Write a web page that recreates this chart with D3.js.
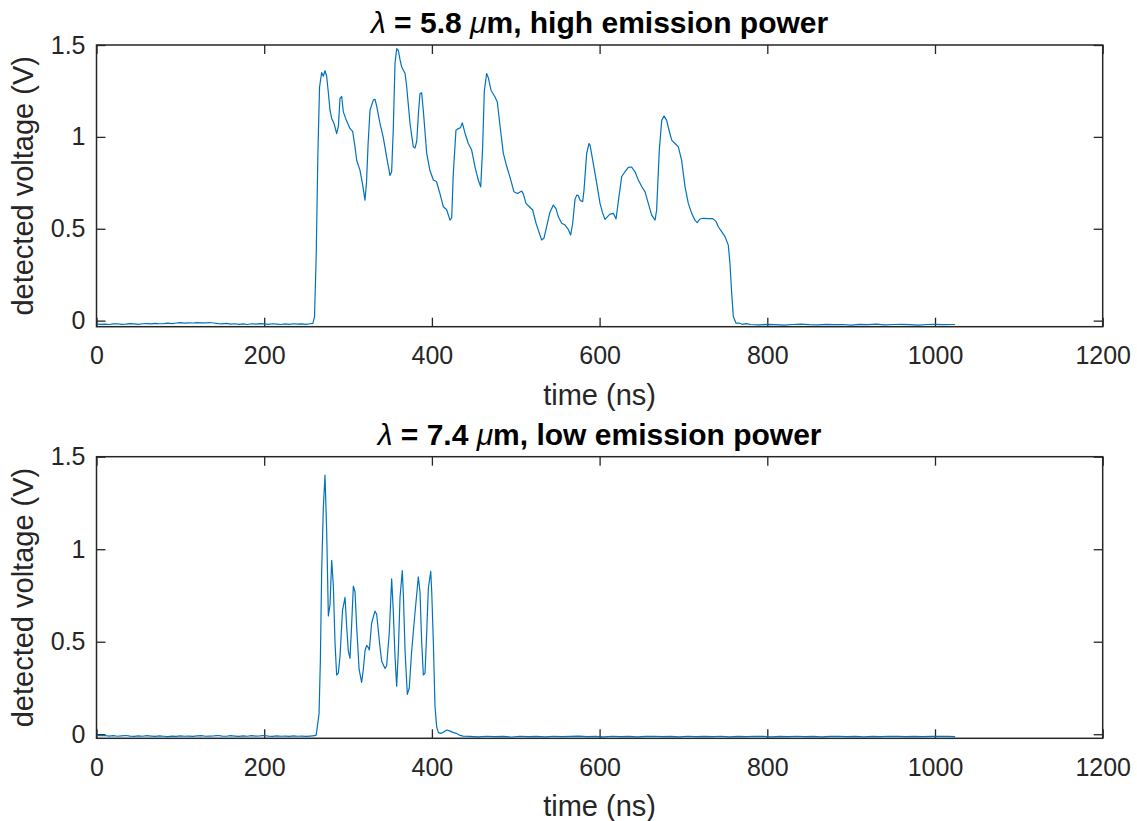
<!DOCTYPE html>
<html>
<head>
<meta charset="utf-8">
<script src="https://cdn.jsdelivr.net/npm/d3@7"></script>
<style>
  body { margin: 0; background: #fff; }
  svg { display: block; font-family: "Liberation Sans", Arial, sans-serif; }
  .tick text { fill: #262626; font-size: 25px; }
  .tick line { stroke: #262626; stroke-width: 1.3; }
  .frame { fill: none; stroke: #262626; stroke-width: 1.5; }
  .trace { fill: none; stroke: #0072BD; stroke-width: 1.2; stroke-linejoin: round; }
  .label { fill: #262626; font-size: 29px; }
  .title { fill: #000; font-size: 30px; font-weight: bold; }
</style>
</head>
<body>
<div id="chart"></div>
<script>
// time in ns, voltage in V
var top_time = [0,5,10,15,20,25,30,35,40,45,50,55,60,65,70,75,80,85,90,95,100,105,110,115,120,125,130,135,140,145,150,155,160,165,170,175,180,185,190,195,200,205,210,215,220,225,230,235,240,245,250,255,258,
  260,262,264,266,268.5,270.5,272.5,274.5,276.5,278.5,280.5,283.5,286.4,288.5,290.4,292.4,294.4,298,302.3,305.5,308.3,310.3,314.2,317,320.2,322,324,326.2,330.1,332.1,334,338.1,342,346,350,352,354,356,358,360,362,364,368,370,373.9,377.8,380,382,384,385.8,387.8,390,393.8,397.5,401.7,405.5,409.7,413.6,417.5,421.6,423.6,425.5,428.7,431.5,434,436.3,439.5,443.4,447.3,451.4,455.3,458.2,460.5,462.5,465.3,467.4,470.5,475,478,481,485.2,489.2,493.2,497.9,502,507.1,509,512.2,516.2,520.2,524.2,528.2,530.9,533.6,536.8,540.8,544.8,548,550.8,554.8,558.8,562.8,565.5,567.9,570.7,572.7,574.7,576.7,579.8,581.4,584.6,587.4,588.6,592.5,596.5,600.5,603.3,606.4,609.2,612.4,616.4,619.6,622.4,626.3,630.2,634.2,638.2,642.2,646.2,650.2,654.2,658.1,662.1,666.1,668,671.2,674.1,676.8,680,682.8,686,690,693.9,697.8,701.9,705.8,709.8,713.7,716.5,719.6,723.7,729.7,734.9,738.9,741.6,745.6,749.6,753.5,755.5,757.5,759.5,762.7,766,770,775,
  780,790,800,810,820,830,840,850,860,870,880,890,900,910,920,930,940,950,960,970,980,990,1000,1010,1020,1024];
var top_voltage = [-0.018,-0.02,-0.019,-0.021,-0.018,-0.017,-0.02,-0.019,-0.016,-0.018,-0.02,-0.017,-0.016,-0.018,-0.015,-0.017,-0.016,-0.014,-0.016,-0.013,-0.011,-0.014,-0.012,-0.013,-0.011,-0.012,-0.012,-0.01,-0.013,-0.016,-0.018,-0.015,-0.019,-0.017,-0.02,-0.018,-0.021,-0.017,-0.019,-0.016,-0.018,-0.02,-0.017,-0.019,-0.021,-0.018,-0.02,-0.017,-0.019,-0.018,-0.02,-0.017,-0.015,
  0.02,0.35,0.9,1.27,1.35,1.33,1.36,1.33,1.24,1.145,1.10,1.07,1.018,1.06,1.21,1.22,1.136,1.09,1.046,1.03,0.946,0.873,0.819,0.75,0.656,0.75,0.97,1.145,1.2,1.205,1.17,1.073,0.997,0.891,0.79,0.81,1.05,1.4,1.48,1.47,1.42,1.38,1.345,1.27,1.073,0.946,0.94,0.98,1.13,1.236,1.24,1.13,0.91,0.82,0.765,0.757,0.69,0.62,0.605,0.547,0.56,0.8,1.036,1.045,1.05,1.076,1.02,0.964,0.93,0.837,0.765,0.728,0.94,1.25,1.345,1.32,1.254,1.22,1.19,1.07,0.91,0.84,0.78,0.701,0.692,0.705,0.69,0.638,0.62,0.602,0.53,0.475,0.439,0.448,0.51,0.59,0.629,0.61,0.565,0.53,0.52,0.495,0.466,0.53,0.66,0.683,0.68,0.655,0.647,0.71,0.91,0.964,0.955,0.855,0.75,0.638,0.59,0.551,0.565,0.58,0.584,0.553,0.65,0.783,0.81,0.834,0.836,0.81,0.765,0.73,0.701,0.638,0.574,0.547,0.6,0.928,1.09,1.114,1.09,1.036,0.982,0.964,0.946,0.873,0.728,0.638,0.584,0.547,0.533,0.553,0.557,0.555,0.555,0.54,0.511,0.484,0.457,0.411,0.31,0.15,0.022,-0.014,-0.013,-0.02,-0.016,
  -0.021,-0.023,-0.02,-0.022,-0.024,-0.021,-0.019,-0.022,-0.023,-0.02,-0.022,-0.021,-0.024,-0.02,-0.022,-0.019,-0.023,-0.021,-0.02,-0.022,-0.024,-0.021,-0.02,-0.022,-0.021,-0.021];

var bottom_time = [0,5,10,15,20,25,30,35,40,45,50,55,60,65,70,75,80,85,90,95,100,105,110,115,120,125,130,135,140,145,150,155,160,165,170,175,180,185,190,195,200,205,210,215,220,225,230,235,240,245,250,255,260,
  262,265.4,267,268.5,270.5,272.5,274.5,276.5,278.5,280.5,282.5,284.4,286.4,288.4,290.4,293.4,296.4,298.4,300.3,302.3,304.3,306.3,308.3,310.3,313.2,316.2,318.2,320.2,322.2,324,325.4,328.1,332.1,334.1,338.1,340.1,344.1,346,349.2,352,354,356,358,360,362,364.7,366,368,370.7,373,375.7,379.7,383.8,385.8,387.8,389.8,391.8,393.8,395.8,398.6,399.8,401.7,403.7,405.7,407.7,409.7,412,415,418,421,425,429,433,437,
  445,455,465,475,485,495,505,515,525,535,545,555,565,575,585,595,605,615,625,635,645,655,665,675,685,695,705,715,725,735,745,755,765,775,785,795,805,815,825,835,845,855,865,875,885,895,905,915,925,935,945,955,965,975,985,995,1005,1015,1024];
var bottom_voltage = [-0.006,-0.008,-0.007,-0.01,-0.008,-0.011,-0.009,-0.007,-0.01,-0.012,-0.009,-0.011,-0.008,-0.01,-0.012,-0.009,-0.011,-0.013,-0.01,-0.012,-0.009,-0.011,-0.01,-0.012,-0.009,-0.008,-0.011,-0.01,-0.009,-0.007,-0.01,-0.011,-0.008,-0.01,-0.012,-0.009,-0.011,-0.008,-0.01,-0.009,-0.007,-0.01,-0.012,-0.009,-0.011,-0.01,-0.012,-0.009,-0.011,-0.01,-0.012,-0.01,-0.008,
  -0.005,0.11,0.4,0.87,1.22,1.40,1.1,0.64,0.7,0.94,0.8,0.5,0.32,0.33,0.42,0.67,0.74,0.58,0.45,0.41,0.59,0.80,0.77,0.58,0.35,0.28,0.35,0.45,0.48,0.47,0.455,0.6,0.665,0.65,0.47,0.395,0.355,0.37,0.55,0.84,0.66,0.42,0.26,0.45,0.74,0.885,0.75,0.45,0.215,0.25,0.44,0.65,0.85,0.77,0.5,0.32,0.33,0.55,0.79,0.88,0.77,0.5,0.15,0.04,0.01,0.005,0.007,0.015,0.023,0.018,0.01,0.005,-0.005,-0.01,
  -0.012,-0.014,-0.011,-0.013,-0.012,-0.015,-0.011,-0.013,-0.012,-0.014,-0.011,-0.013,-0.012,-0.01,-0.013,-0.012,-0.014,-0.011,-0.013,-0.012,-0.014,-0.012,-0.011,-0.013,-0.012,-0.014,-0.011,-0.013,-0.012,-0.013,-0.011,-0.014,-0.012,-0.013,-0.011,-0.012,-0.014,-0.012,-0.013,-0.011,-0.013,-0.012,-0.014,-0.012,-0.011,-0.013,-0.012,-0.014,-0.012,-0.013,-0.011,-0.012,-0.013,-0.012,-0.013,-0.012,-0.011,-0.012,-0.013];

var x_ticks = [0, 200, 400, 600, 800, 1000, 1200];
var y_ticks = [0, 0.5, 1, 1.5];
var y_tick_labels = ['0', '0.5', '1', '1.5'];

var width = 1137, height = 821;
var plot_left = 96.5, plot_right = 1102.7;

var svg = d3.select('#chart').append('svg')
    .attr('width', width)
    .attr('height', height);

var scale_x = d3.scaleLinear()
    .domain([0, 1200])
    .range([plot_left, plot_right]);

var draw_panel = function(times, volts, y_top, y_bottom, y_min, title_parts) {
    var scale_y = d3.scaleLinear()
        .domain([y_min, 1.5])
        .range([y_bottom, y_top]);

    var g = svg.append('g');

    // ticks pointing in, on all four sides like matlab
    g.append('g')
        .attr('transform', 'translate(0,' + y_bottom + ')')
        .call(d3.axisBottom(scale_x).tickValues(x_ticks).tickSize(-9).tickPadding(20)
            .tickFormat(d3.format('d')))
        .call(function(a) { a.select('.domain').remove(); });
    g.append('g')
        .attr('transform', 'translate(0,' + y_top + ')')
        .call(d3.axisTop(scale_x).tickValues(x_ticks).tickSize(-9).tickFormat(''))
        .call(function(a) { a.select('.domain').remove(); });
    g.append('g')
        .attr('transform', 'translate(' + plot_left + ',0)')
        .call(d3.axisLeft(scale_y).tickValues(y_ticks).tickSize(-9).tickPadding(11)
            .tickFormat(function(d, i) { return y_tick_labels[i]; }))
        .call(function(a) { a.select('.domain').remove(); });
    g.append('g')
        .attr('transform', 'translate(' + plot_right + ',0)')
        .call(d3.axisRight(scale_y).tickValues(y_ticks).tickSize(-9).tickFormat(''))
        .call(function(a) { a.select('.domain').remove(); });

    var line = d3.line()
        .x(function(d) { return scale_x(d[0]); })
        .y(function(d) { return scale_y(d[1]); });

    g.append('path')
        .datum(d3.zip(times, volts))
        .attr('class', 'trace')
        .attr('d', line);

    g.append('rect')
        .attr('class', 'frame')
        .attr('x', plot_left)
        .attr('y', y_top)
        .attr('width', plot_right - plot_left)
        .attr('height', y_bottom - y_top);

    var title = g.append('text')
        .attr('class', 'title')
        .attr('x', (plot_left + plot_right) / 2)
        .attr('y', y_top - 12)
        .attr('text-anchor', 'middle');
    title_parts.forEach(function(p) {
        title.append('tspan')
            .style('font-style', p.italic ? 'italic' : null)
            .style('font-weight', p.italic ? 'normal' : null)
            .text(p.text);
    });

    g.append('text')
        .attr('class', 'label')
        .attr('x', (plot_left + plot_right) / 2)
        .attr('y', y_bottom + 78)
        .attr('text-anchor', 'middle')
        .text('time (ns)');

    g.append('text')
        .attr('class', 'label')
        .attr('transform', 'translate(33,' + ((y_top + y_bottom) / 2) + ') rotate(-90)')
        .attr('text-anchor', 'middle')
        .text('detected voltage (V)');
};

draw_panel(top_time, top_voltage, 45, 326.7, -0.033,
    [{text: 'λ', italic: true}, {text: ' = 5.8 '}, {text: 'μ', italic: true}, {text: 'm, high emission power'}]);
draw_panel(bottom_time, bottom_voltage, 456.7, 738.3, -0.022,
    [{text: 'λ', italic: true}, {text: ' = 7.4 '}, {text: 'μ', italic: true}, {text: 'm, low emission power'}]);
</script>
</body>
</html>
